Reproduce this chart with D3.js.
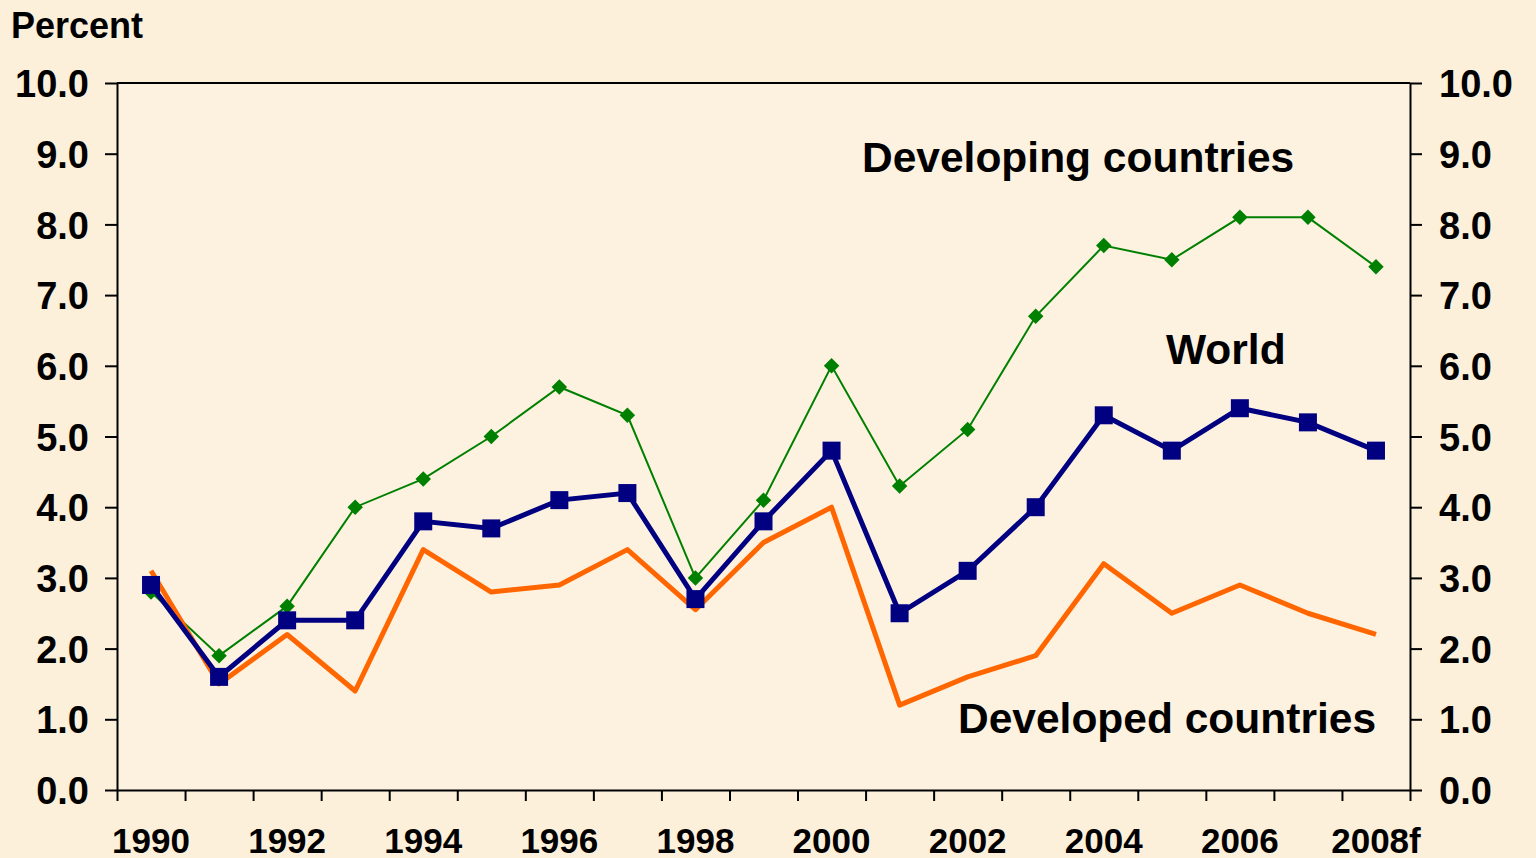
<!DOCTYPE html>
<html>
<head>
<meta charset="utf-8">
<script src="https://cdn.jsdelivr.net/npm/d3@7"></script>
<style>
  body { margin: 0; background: #fcf0db; }
  svg { display: block; }
  text { font-family: "Liberation Sans", Arial, sans-serif; font-weight: bold; fill: #000; }
</style>
</head>
<body>
<div id="chart"></div>
<script>
// data
const years = ["1990","1991","1992","1993","1994","1995","1996","1997","1998","1999",
               "2000","2001","2002","2003","2004","2005","2006","2007","2008f"];
const yearLabels = ["1990","1992","1994","1996","1998","2000","2002","2004","2006","2008f"];
const developing = [2.8,1.9,2.6,4.0,4.4,5.0,5.7,5.3,3.0,4.1,6.0,4.3,5.1,6.7,7.7,7.5,8.1,8.1,7.4];
const world      = [2.9,1.6,2.4,2.4,3.8,3.7,4.1,4.2,2.7,3.8,4.8,2.5,3.1,4.0,5.3,4.8,5.4,5.2,4.8];
const developed  = [3.1,1.5,2.2,1.4,3.4,2.8,2.9,3.4,2.55,3.5,4.0,1.2,1.6,1.9,3.2,2.5,2.9,2.5,2.2];
const yTicks = [0,1,2,3,4,5,6,7,8,9,10];

let width = 1536, height = 858;
let margin = {top: 83, right: 126, bottom: 68, left: 117};
let plotW = width - margin.left - margin.right,
    plotH = height - margin.top - margin.bottom;

let svg = d3.select("#chart").append("svg")
    .attr("width", width)
    .attr("height", height);

svg.append("rect").attr("width", width).attr("height", height).attr("fill", "#fcf0db");

let g = svg.append("g")
    .attr("transform", "translate(" + margin.left + "," + margin.top + ")");

g.append("rect").attr("width", plotW).attr("height", plotH).attr("fill", "#fdf2e0");

let x = d3.scaleBand().domain(years).range([0, plotW]).padding(0);
let xEdge = d3.scaleLinear().domain([0, years.length]).range([0, plotW]);
let y = d3.scaleLinear().domain([0, 10]).range([plotH, 0]);
let cx = d => x(d) + x.bandwidth() / 2;

// left axis
let yLeft = g.append("g")
    .call(d3.axisLeft(y).tickValues(yTicks).tickFormat(d3.format(".1f")).tickSize(12).tickSizeOuter(0).tickPadding(16));
// right axis
let yRight = g.append("g")
    .attr("transform", "translate(" + plotW + ",0)")
    .call(d3.axisRight(y).tickValues(yTicks).tickFormat(d3.format(".1f")).tickSize(12).tickSizeOuter(0).tickPadding(17));

[yLeft, yRight].forEach(a => {
  a.selectAll("text").style("font-size", "38px").attr("dy", "0.36em");
  a.selectAll("line, path").attr("stroke", "#000").attr("stroke-width", 2);
});

// bottom axis: ticks at category edges
let xAx = g.append("g")
    .attr("transform", "translate(0," + plotH + ")")
    .call(d3.axisBottom(xEdge).tickValues(d3.range(years.length + 1)).tickFormat("").tickSize(11).tickSizeOuter(0));
xAx.selectAll("line, path").attr("stroke", "#000").attr("stroke-width", 2);

g.selectAll(".xlab")
  .data(yearLabels)
  .enter().append("text")
  .attr("class", "xlab")
  .attr("x", d => cx(d))
  .attr("y", plotH + 63)
  .attr("text-anchor", "middle")
  .style("font-size", "35px")
  .text(d => d);

// top frame
g.append("line")
  .attr("x1", 0).attr("x2", plotW).attr("y1", 0).attr("y2", 0)
  .attr("stroke", "#000").attr("stroke-width", 2);

let line = d3.line().x((d, i) => cx(years[i])).y(d => y(d));

// developing countries
g.append("path").datum(developing)
  .attr("d", line).attr("fill", "none")
  .attr("stroke", "#008000").attr("stroke-width", 2);
g.selectAll(".dia").data(developing).enter().append("path")
  .attr("class", "dia")
  .attr("d", d3.symbol().type(d3.symbolSquare).size(120))
  .attr("transform", (d, i) => "translate(" + cx(years[i]) + "," + y(d) + ") rotate(45)")
  .attr("fill", "#008000");

// developed countries
g.append("path").datum(developed)
  .attr("d", line).attr("fill", "none")
  .attr("stroke", "#ff6600").attr("stroke-width", 5)
  .attr("stroke-linejoin", "round");

// world
g.append("path").datum(world)
  .attr("d", line).attr("fill", "none")
  .attr("stroke", "#000080").attr("stroke-width", 5);
g.selectAll(".sq").data(world).enter().append("rect")
  .attr("class", "sq")
  .attr("x", (d, i) => cx(years[i]) - 9)
  .attr("y", d => y(d) - 9)
  .attr("width", 18).attr("height", 18)
  .attr("fill", "#000080");

// labels
svg.append("text").attr("x", 11).attr("y", 38).style("font-size", "36px").text("Percent");
svg.append("text").attr("x", 862).attr("y", 172).style("font-size", "42.5px").text("Developing countries");
svg.append("text").attr("x", 1166).attr("y", 364).style("font-size", "42.5px").text("World");
svg.append("text").attr("x", 958).attr("y", 733).style("font-size", "42.5px").text("Developed countries");
</script>
</body>
</html>
